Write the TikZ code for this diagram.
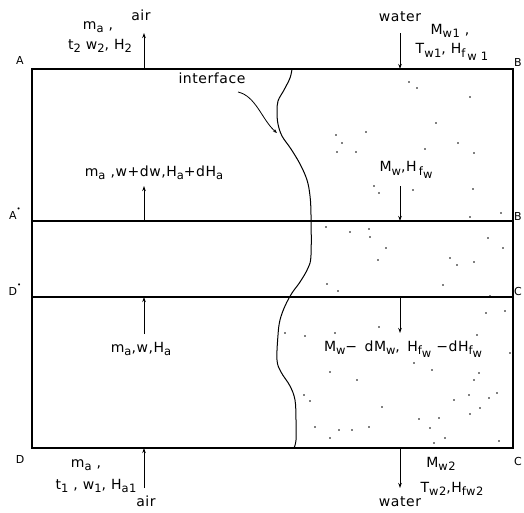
\documentclass[tikz,border=0pt]{standalone}
\usepackage{fontspec}
\setmainfont[LetterSpace=4]{DejaVu Sans}
\usetikzlibrary{arrows.meta}
\newcommand\sbx[1]{\raisebox{-0.45ex}{\fontsize{11.5}{12}\selectfont #1}}
\newcommand\pdot{\raisebox{1.3ex}{\fontsize{7}{8}\selectfont\textbullet}}
\tikzset{
  lbl/.style={inner sep=0pt, font=\fontsize{14}{15}\selectfont},
  corner/.style={inner sep=0pt, font=\fontsize{11}{12}\selectfont},
  frame/.style={line width=1.4pt},
  sec/.style={line width=1.1pt},
  flow/.style={line width=0.9pt, -{Stealth[length=5pt,width=3.5pt]}},
  dotm/.style={fill=black, inner sep=0pt, minimum size=1.7pt, circle},
}
\begin{document}
\begin{tikzpicture}[x=1pt,y=-1pt]
\useasboundingbox (0,0) rectangle (524,512);
% frame coordinates
\coordinate (A) at (32,69);
\coordinate (B) at (513,69);
\coordinate (C) at (513,448);
\coordinate (D) at (32,448);
\coordinate (Ap) at (32,221);
\coordinate (Bp) at (513,221);
\coordinate (Dp) at (32,297);
\coordinate (Cp) at (513,297);
\draw[frame] (A) -- (B) -- (C) -- (D) -- cycle;
\draw[sec] (Ap) -- (Bp);
\draw[sec] (Dp) -- (Cp);

% corner labels
\node[corner] (lA) at (20,60) {A};
\node[corner] (lB) at (518,62) {B};
\node[corner] (lAp) at (15,214) {A\pdot};
\node[corner] (lBp) at (518,216) {B};
\node[corner] (lDp) at (15,290) {D\pdot};
\node[corner] (lCp) at (518,291) {C};
\node[corner] (lD) at (20,459) {D};
\node[corner] (lC) at (518,461) {C};

% interface
\draw[line width=1pt] plot[smooth, tension=0.6] coordinates {
 (292,69) (290,78) (284,90) (278,101) (277,112) (278,124) (282,136) (291,149)
 (300,164) (307,180) (310,196) (311,215) (311,255) (308,268) (300,282) (292,293)
 (285,306) (280,320) (278,335) (277,360) (281,372) (290,386) (295,400) (296,420)
 (296,440) (294,448)};
\node[lbl] (iface) at (212,78) {interface};
\coordinate (itip) at (277,133);
\draw[line width=0.8pt, -{Stealth[length=4pt,width=3pt]}] (238,92) .. controls (256,96) and (262,120) .. (itip);

% arrow endpoints
\coordinate (a1s) at (144,69);  \coordinate (a1e) at (144,33);
\coordinate (w1s) at (400,33);  \coordinate (w1e) at (400,69);
\coordinate (a2s) at (144,221); \coordinate (a2e) at (144,186);
\coordinate (w2s) at (400,186); \coordinate (w2e) at (400,221);
\coordinate (a3s) at (144,334); \coordinate (a3e) at (144,297);
\coordinate (w3s) at (400,297); \coordinate (w3e) at (400,333);
\coordinate (a4s) at (144,488); \coordinate (a4e) at (144,448);
\coordinate (w4s) at (400,448); \coordinate (w4e) at (400,488);
\draw[flow] (a1s) -- (a1e);
\draw[flow] (w1s) -- (w1e);
\draw[flow] (a2s) -- (a2e);
\draw[flow] (w2s) -- (w2e);
\draw[flow] (a3s) -- (a3e);
\draw[flow] (w3s) -- (w3e);
\draw[flow] (a4s) -- (a4e);
\draw[flow] (w4s) -- (w4e);

% top labels
\node[lbl] (airT) at (141,15) {air};
\node[lbl] (maT) at (98,27) {m\sbx{a} ,};
\node[lbl] (t2) at (100,46) {t\sbx{2} w\sbx{2}, H\sbx{2}};
\node[lbl] (watT) at (400,17) {water};
\node[lbl] (Mw1) at (450,31) {M\sbx{w1} ,};
\node[lbl] (Tw1) at (452,52) {T\sbx{w1}, H\sbx{f\,\sbx{w 1}}};

% middle labels
\node[lbl] (mid1) at (154,173) {m\sbx{a} ,w+dw,H\sbx{a}+dH\sbx{a}};
\node[lbl] (mid2) at (406,170) {M\sbx{w},H\,\sbx{f\sbx{w}}};
\node[lbl] (mid3) at (141,349) {m\sbx{a},w,H\sbx{a}};
\node[lbl] (mid4) at (403,349) {M\sbx{w}−\, dM\sbx{w},\, H\sbx{f\sbx{w}} −dH\sbx{f\sbx{w}}};

% bottom labels
\node[lbl] (maB) at (86,465) {m\sbx{a} ,};
\node[lbl] (t1) at (96,486) {t\sbx{1} , w\sbx{1}, H\sbx{a1}};
\node[lbl] (airB) at (146,501) {air};
\node[lbl] (Mw2) at (441,464) {M\sbx{w2}};
\node[lbl] (Tw2) at (452,489) {T\sbx{w2},H\sbx{fw2}};
\node[lbl] (watB) at (400,502) {water};

% stipple dots in water region
\foreach \p in {(409,82),(417,88),(470,97),(336,135),(366,132),(342,143),(337,152),
 (356,152),(425,149),(458,143),(474,153),(436,123),(374,186),(379,193),(413,190),
 (473,189),(501,213),(470,217),(326,227),(350,232),(369,229),(370,237),(386,248),
 (378,260),(450,258),(457,265),(474,262),(488,238),(503,248),(327,284),(338,291),
 (443,285),(490,296),(486,313),(505,311),(285,333),(305,336),(335,333),(379,327),
 (477,335),(510,353),(414,363),(432,370),(330,372),(357,380),(474,380),(479,373),
 (304,395),(310,401),(382,407),(454,400),(469,395),(489,398),(497,393),(480,408),
 (470,414),(419,419),(439,418),(315,427),(339,430),(369,427),(430,428),(330,438),
 (445,438),(434,443),(499,441),(352,430)}
  \node[dotm] at \p {};
\end{tikzpicture}
\end{document}
